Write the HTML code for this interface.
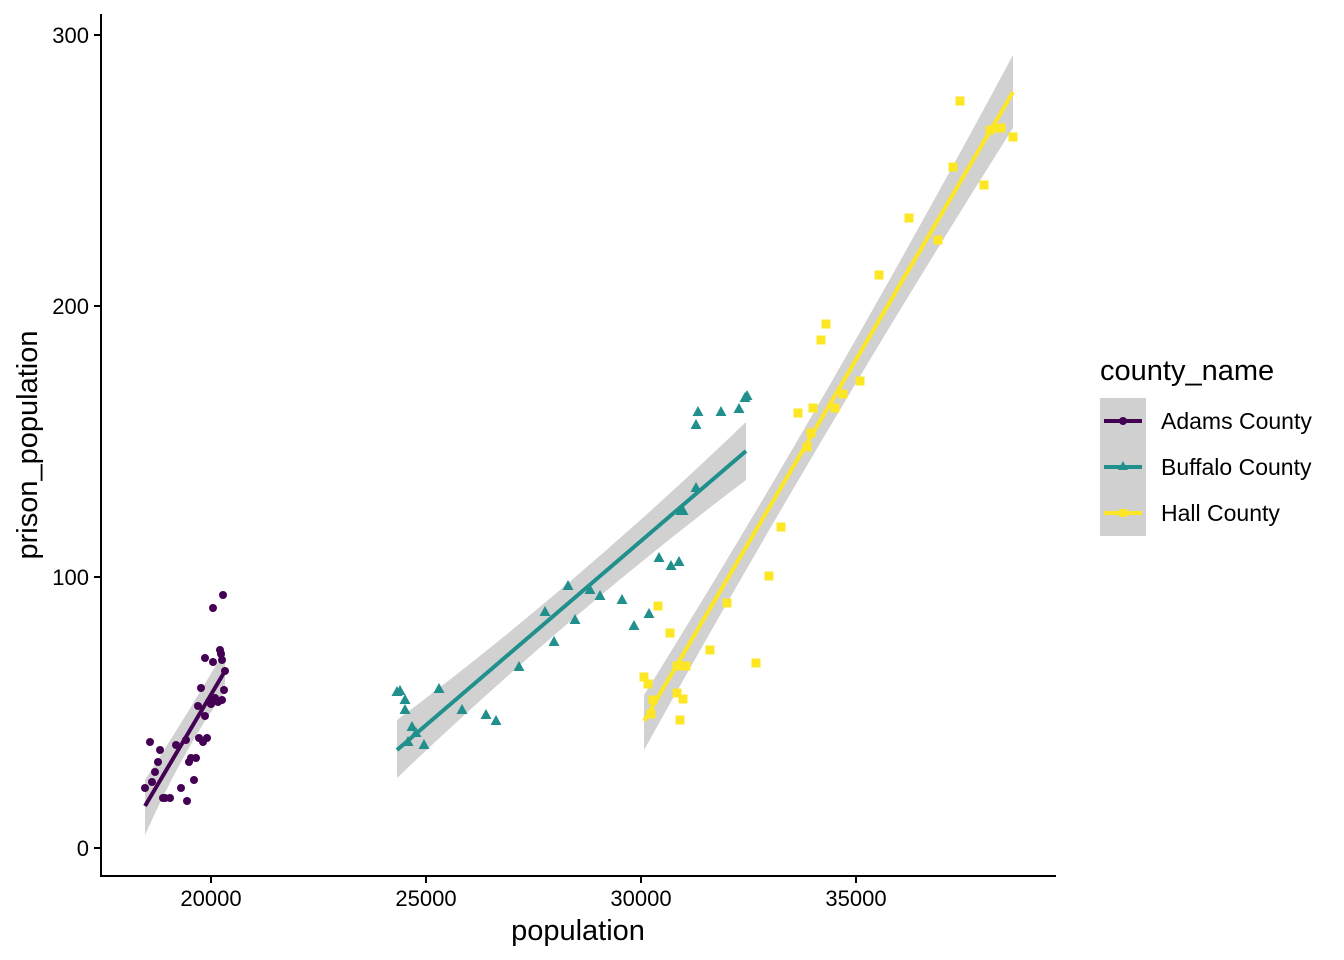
<!DOCTYPE html>
<html><head><meta charset="utf-8"><style>body{margin:0;background:#fff}svg{display:block}text{font-family:"Liberation Sans",Arial,sans-serif}</style></head><body>
<svg width="1344" height="960" viewBox="0 0 1344 960" xmlns="http://www.w3.org/2000/svg">
<rect width="1344" height="960" fill="#fff"/>
<path d="M145,780 Q185,718 225,650 L225,692 Q185,746 145,835 Z" fill="#999" opacity="0.45"/>
<path d="M397,720 Q571,590 746,422 L746,480 Q571,612 397,778 Z" fill="#999" opacity="0.45"/>
<path d="M644,695 Q828,400 1013,55 L1013,128 Q828,420 644,750 Z" fill="#999" opacity="0.45"/>
<g fill="#440154">
<circle cx="145" cy="788" r="4"/><circle cx="150" cy="742" r="4"/><circle cx="152" cy="782" r="4"/><circle cx="155" cy="772" r="4"/><circle cx="158" cy="762" r="4"/><circle cx="160" cy="750" r="4"/><circle cx="163" cy="798" r="4"/><circle cx="165" cy="798" r="4"/><circle cx="170" cy="798" r="4"/><circle cx="176" cy="745" r="4"/><circle cx="181" cy="788" r="4"/><circle cx="186" cy="740" r="4"/><circle cx="187" cy="801" r="4"/><circle cx="189" cy="762" r="4"/><circle cx="191" cy="758" r="4"/><circle cx="194" cy="780" r="4"/><circle cx="196" cy="758" r="4"/><circle cx="198" cy="706" r="4"/><circle cx="199" cy="738" r="4"/><circle cx="201" cy="688" r="4"/><circle cx="203" cy="742" r="4"/><circle cx="205" cy="658" r="4"/><circle cx="205" cy="716" r="4"/><circle cx="207" cy="738" r="4"/><circle cx="209" cy="702" r="4"/><circle cx="211" cy="704" r="4"/><circle cx="213" cy="608" r="4"/><circle cx="213" cy="662" r="4"/><circle cx="215" cy="698" r="4"/><circle cx="218" cy="702" r="4"/><circle cx="220" cy="650" r="4"/><circle cx="221" cy="654" r="4"/><circle cx="222" cy="700" r="4"/><circle cx="223" cy="595" r="4"/><circle cx="224" cy="690" r="4"/><circle cx="225" cy="671" r="4"/><circle cx="222" cy="660" r="4"/>
</g>
<g fill="#21908C" id="tri"></g>
<g fill="#FDE725" id="sq"></g>
<line x1="145" y1="806" x2="225" y2="671" stroke="#440154" stroke-width="4"/>
<line x1="397" y1="750" x2="746" y2="451" stroke="#21908C" stroke-width="4"/>
<line x1="644" y1="721" x2="1013" y2="92" stroke="#FDE725" stroke-width="4"/>
<g stroke="#000" stroke-width="2" fill="none">
<line x1="101" y1="14" x2="101" y2="877"/><line x1="100" y1="876" x2="1056" y2="876"/>
<path d="M94,35H101M94,306H101M94,577H101M94,848H101"/>
<path d="M211,876V883M426,876V883M641,876V883M856,876V883"/>
</g>
<g font-size="22" fill="#000" text-anchor="end">
<text x="89" y="43">300</text><text x="89" y="314">200</text><text x="89" y="585">100</text><text x="89" y="856">0</text>
</g>
<g font-size="22" fill="#000" text-anchor="middle">
<text x="211" y="906">20000</text><text x="426" y="906">25000</text><text x="641" y="906">30000</text><text x="856" y="906">35000</text>
</g>
<text x="578" y="940" font-size="29" text-anchor="middle">population</text>
<text transform="translate(37,445) rotate(-90)" font-size="29" text-anchor="middle">prison_population</text>
<text x="1100" y="380" font-size="29">county_name</text>
<rect x="1100" y="398" width="46" height="138" fill="#d0d0d0"/>
<line x1="1104" y1="421" x2="1142" y2="421" stroke="#440154" stroke-width="4"/><circle cx="1123" cy="421" r="4" fill="#440154"/>
<line x1="1104" y1="467" x2="1142" y2="467" stroke="#21908C" stroke-width="4"/><polygon points="1123,461 1128,470 1118,470" fill="#21908C"/>
<line x1="1104" y1="513" x2="1142" y2="513" stroke="#FDE725" stroke-width="4"/><rect x="1119" y="509" width="8" height="8" fill="#FDE725"/>
<g font-size="23"><text x="1161" y="429">Adams County</text><text x="1161" y="475">Buffalo County</text><text x="1161" y="521">Hall County</text></g>
</svg>
<script>
var ns="http://www.w3.org/2000/svg";
var t=[[397,692],[400,691],[405,700],[405,710],[408,742],[412,727],[416,733],[424,745],[439,689],[462,710],[486,715],[496,721],[519,667],[545,612],[554,642],[568,586],[575,620],[590,590],[600,596],[622,600],[634,626],[649,614],[659,558],[671,566],[679,562],[681,511],[683,511],[696,488],[696,425],[698,412],[721,412],[739,409],[745,398],[747,396]];
var s=[[644,677],[648,684],[651,714],[653,700],[658,606],[670,633],[677,666],[677,693],[680,720],[683,699],[686,666],[710,650],[727,603],[756,663],[769,576],[781,527],[798,413],[807,447],[811,433],[813,408],[821,340],[826,324],[835,408],[843,394],[860,381],[879,275],[909,218],[938,240],[953,167],[960,101],[984,185],[990,130],[996,128],[1001,128],[1013,137]];
var g=document.getElementById("tri");
t.forEach(function(p){var e=document.createElementNS(ns,"polygon");e.setAttribute("points",p[0]+","+(p[1]-6)+" "+(p[0]+5.5)+","+(p[1]+4)+" "+(p[0]-5.5)+","+(p[1]+4));g.appendChild(e);});
var h=document.getElementById("sq");
s.forEach(function(p){var e=document.createElementNS(ns,"rect");e.setAttribute("x",p[0]-4.5);e.setAttribute("y",p[1]-4.5);e.setAttribute("width",9);e.setAttribute("height",9);h.appendChild(e);});
</script>
</body></html>
